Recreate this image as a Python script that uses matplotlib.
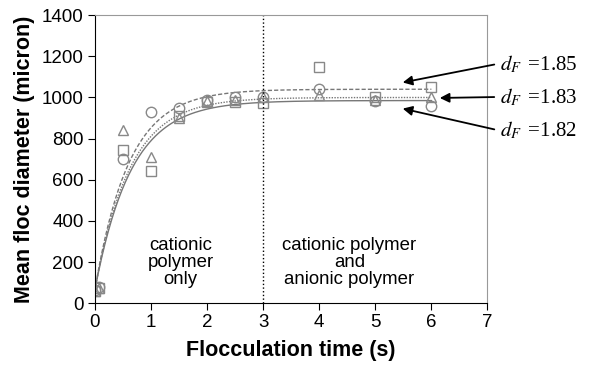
import numpy as np
import matplotlib
matplotlib.use("Agg")
import matplotlib.pyplot as plt

plt.rcParams['font.family'] = ['Liberation Sans', 'DejaVu Sans']

# measured points (time in s, floc diameter in micron)
t_pts = [0, 0.08, 0.5, 1, 1.5, 2, 2.5, 3, 4, 5, 6]
sq_vals = [62, 75, 745, 645, 910, 980, 980, 975, 1150, 1000, 1050]
tri_vals = [60, 72, 840, 710, 900, 985, 990, 1000, 1010, 990, 1000]
circ_vals = [65, 78, 700, 930, 950, 990, 1000, 1000, 1040, 985, 960]

# fitted growth curves: (initial size, plateau, rate)
fit_185 = (65, 1040, 1.65)
fit_183 = (65, 1000, 1.6)
fit_182 = (65, 985, 1.55)

labels = ['1.85', '1.83', '1.82']


def growth(t, d0, dmax, k):
    return d0 + (dmax - d0) * (1 - np.exp(-k * t))


fig = plt.figure(figsize=(5.93, 3.69), dpi=100)
ax = fig.add_axes([0.160, 0.178, 0.662, 0.781])

tt = np.linspace(0, 6, 300)
ax.plot(tt, growth(tt, *fit_185), color='#777777', ls=(0, (3, 1.5)), lw=1.0)
ax.plot(tt, growth(tt, *fit_183), color='#777777', ls=(0, (1, 1)), lw=1.0)
ax.plot(tt, growth(tt, *fit_182), color='#777777', ls='-', lw=1.0)

mk = dict(mfc='none', mec='#888888', mew=1.0, ms=7.5, ls='none')
ax.plot(t_pts, sq_vals, marker='s', **mk)
ax.plot(t_pts, tri_vals, marker='^', **mk)
ax.plot(t_pts, circ_vals, marker='o', **mk)

ax.axvline(3, color='black', ls=':', lw=1.0)

ax.text(1.53, 196, 'cationic\npolymer\nonly', ha='center', va='center',
        fontsize=13.4, linespacing=1.0)
ax.text(4.54, 196, 'cationic polymer\nand\nanionic polymer', ha='center',
        va='center', fontsize=13.4, linespacing=1.0)

ax.set_xlim(0, 7)
ax.set_ylim(0, 1400)
ax.set_xticks(range(0, 8))
ax.set_yticks(range(0, 1401, 200))
ax.tick_params(labelsize=13.5, length=5, direction='out', pad=3)
ax.set_xlabel('Flocculation time (s)', fontsize=15.5, fontweight='bold',
              labelpad=6)
ax.set_ylabel('Mean floc diameter (micron)', fontsize=15.5, fontweight='bold',
              labelpad=5)
for s in ['top', 'right']:
    ax.spines[s].set_color('#999999')

# d_F labels with arrows (figure pixel coordinates)
W, H = 593, 369
txt_y = [64, 97, 130]
heads = [(400, 83), (437, 98), (400, 108)]
for lab, ty, (hx, hy) in zip(labels, txt_y, heads):
    fig.text(500 / W, 1 - ty / H, r'$d_F\,$' + ' =' + lab,
             fontsize=15, family='Liberation Serif', va='center', ha='left',
             math_fontfamily='stix')
    ax.annotate('', xy=(hx / W, 1 - hy / H), xycoords='figure fraction',
                xytext=(497 / W, 1 - ty / H), textcoords='figure fraction',
                arrowprops=dict(arrowstyle='-|>', color='black', lw=1.3,
                                mutation_scale=14),
                annotation_clip=False)

fig.savefig('out.png', dpi=100)
